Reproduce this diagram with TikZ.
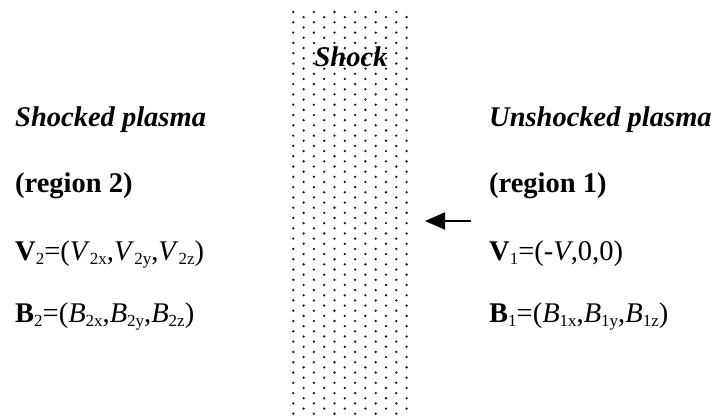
\documentclass[tikz,border=0pt]{standalone}
\usepackage{fontspec}
\setmainfont{Liberation Serif}
\usetikzlibrary{arrows.meta}
\definecolor{dotgray}{RGB}{25, 25, 25}
\newcommand{\sbs}[1]{\raisebox{-4.5pt}{\fontsize{17}{17}\selectfont #1}}

\begin{document}
\begin{tikzpicture}[
  x=1pt, y=-1pt,
  every node/.style={font=\fontsize{28.5}{34}\selectfont, inner sep=0pt},
  lbl/.style={anchor=base west},
  dotfill/.style={fill=dotgray},
  flowarr/.style={-{Triangle[length=20pt, width=17pt]}, line width=2pt}
]
  \useasboundingbox (0, 0) rectangle (715, 416);

  % Shock layer
  \foreach \i in {0,...,11}
    \foreach \j in {0,...,40}
      \fill[dotfill] ({293.3+10.3*\i}, {12+10.3*\j+5.15*mod(\i,2)}) circle (1.3);
  \node[anchor=base] (shock) at (351, 66) {\textbf{\textit{Shock}}};

  % Shocked side
  \node[lbl] (shocked) at (15, 126) {\textbf{\textit{Shocked plasma}}};
  \node[lbl] (reg2)    at (15, 192) {\textbf{(region 2)}};
  \node[lbl] (vel2)    at (15, 260) {\textbf{V}\sbs{2}=(\textit{V}\sbs{2x},\textit{V}\sbs{2y},\textit{V}\sbs{2z})};
  \node[lbl] (mag2)    at (15, 322) {\textbf{B}\sbs{2}=(\textit{B}\sbs{2x},\textit{B}\sbs{2y},\textit{B}\sbs{2z})};

  % Unshocked side
  \node[lbl] (unshocked) at (489, 126) {\textbf{\textit{Unshocked plasma}}};
  \node[lbl] (reg1)      at (489, 192) {\textbf{(region 1)}};
  \node[lbl] (vel1)      at (489, 260) {\textbf{V}\sbs{1}=(-\textit{V},0,0)};
  \node[lbl] (mag1)      at (489, 322) {\textbf{B}\sbs{1}=(\textit{B}\sbs{1x},\textit{B}\sbs{1y},\textit{B}\sbs{1z})};

  % Inflow
  \coordinate (flowtail) at (471, 221);
  \coordinate (flowtip)  at (425, 221);
  \draw[flowarr] (flowtail) -- (flowtip);
\end{tikzpicture}
\end{document}
